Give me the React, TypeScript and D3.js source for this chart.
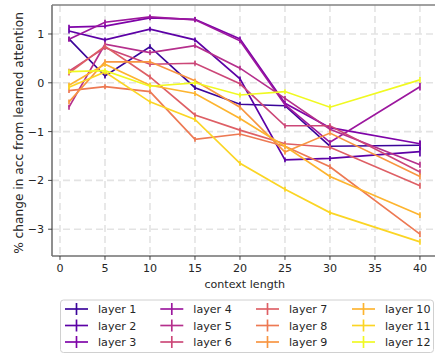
import React from "react";
import * as d3 from "d3";

const contextLengths = [1, 5, 10, 15, 20, 25, 30, 40];
const layerNames = ["layer 1","layer 2","layer 3","layer 4","layer 5","layer 6","layer 7","layer 8","layer 9","layer 10","layer 11","layer 12"];

const layer1 = [0.90, 0.14, 0.74, -0.10, -0.44, -0.47, -1.30, -1.28];
const layer2 = [1.06, 0.88, 1.10, 0.88, 0.08, -1.58, -1.55, -1.41];
const layer3 = [1.14, 1.16, 1.33, 1.30, 0.90, -0.42, -0.92, -1.25];
const layer4 = [0.89, 1.24, 1.35, 1.29, 0.86, -0.45, -1.22, -0.08];
const layer5 = [-0.50, 0.79, 0.62, 0.76, 0.30, -0.32, -0.95, -1.68];
const layer6 = [0.24, 0.72, 0.38, 0.40, -0.02, -0.88, -0.88, -1.83];
const layer7 = [0.20, 0.75, 0.12, -0.66, -0.97, -1.25, -1.32, -2.11];
const layer8 = [-0.16, -0.08, -0.18, -1.16, -1.05, -1.30, -1.72, -3.10];
const layer9 = [-0.39, 0.43, 0.43, 0.04, -0.50, -1.42, -1.03, -1.92];
const layer10 = [-0.05, 0.38, -0.05, -0.22, -0.73, -1.30, -1.92, -2.71];
const layer11 = [-0.09, 0.22, -0.39, -0.75, -1.65, -2.18, -2.66, -3.26];
const layer12 = [0.23, 0.25, -0.07, 0.00, -0.25, -0.18, -0.50, 0.06];

const err1 = [0.05, 0.05, 0.05, 0.05, 0.05, 0.05, 0.05, 0.10];
const err2 = [0.05, 0.05, 0.05, 0.05, 0.05, 0.05, 0.05, 0.10];
const err3 = [0.05, 0.05, 0.05, 0.05, 0.05, 0.05, 0.05, 0.06];
const err4 = [0.05, 0.05, 0.05, 0.05, 0.05, 0.05, 0.05, 0.08];
const err5 = [0.05, 0.05, 0.05, 0.05, 0.05, 0.05, 0.05, 0.06];
const err6 = [0.05, 0.05, 0.05, 0.05, 0.05, 0.05, 0.05, 0.06];
const err7 = [0.05, 0.05, 0.05, 0.05, 0.05, 0.05, 0.05, 0.06];
const err8 = [0.05, 0.05, 0.05, 0.05, 0.05, 0.05, 0.05, 0.06];
const err9 = [0.05, 0.05, 0.05, 0.05, 0.05, 0.05, 0.05, 0.06];
const err10 = [0.05, 0.05, 0.05, 0.05, 0.05, 0.05, 0.05, 0.06];
const err11 = [0.05, 0.05, 0.05, 0.05, 0.05, 0.05, 0.05, 0.06];
const err12 = [0.05, 0.05, 0.05, 0.05, 0.05, 0.05, 0.05, 0.06];

const series = [layer1, layer2, layer3, layer4, layer5, layer6, layer7, layer8, layer9, layer10, layer11, layer12];
const errors = [err1, err2, err3, err4, err5, err6, err7, err8, err9, err10, err11, err12];

const xTicks = [0, 5, 10, 15, 20, 25, 30, 35, 40];
const yTicks = [1, 0, -1, -2, -3];

const W = 435, H = 354;
const FONT = "DejaVu Sans, sans-serif";
const FS = 11.1;

export default function App() {
  const x = d3.scaleLinear().domain([-0.95, 41.95]).range([51.45, 437.5]);
  const y = d3.scaleLinear().domain([-3.549, 1.594]).range([256, 5]);
  const color = (i: number) => d3.interpolatePlasma((i + 1) / 12);
  const line = d3.line<number>().x((_, i) => x(contextLengths[i])).y((d) => y(d));
  const left = 52, right = 437.5, top = 5, bottom = 256;

  const legendRows = [309, 325.5, 342];
  const legendCols = [65, 160.3, 256, 352];

  return (
    <svg width={W} height={H} style={{ position: "absolute", left: 0, top: 0, background: "#fff" }} fontFamily={FONT}>
      <rect x={0} y={0} width={W} height={H} fill="#fff" />
      {/* grid */}
      {xTicks.map((t) => (
        <line key={"gx" + t} x1={x(t)} x2={x(t)} y1={top} y2={bottom} stroke="#e3e3e3" strokeWidth={1.6} strokeDasharray="7,4" />
      ))}
      {yTicks.map((t) => (
        <line key={"gy" + t} x1={left} x2={right} y1={y(t)} y2={y(t)} stroke="#e3e3e3" strokeWidth={1.6} strokeDasharray="7,4" />
      ))}
      {/* series */}
      {series.map((s, i) => (
        <g key={"s" + i} stroke={color(i)} fill="none" strokeWidth={1.67}>
          <path d={line(s) || ""} />
          {s.map((v, j) => (
            <line key={j} x1={x(contextLengths[j])} x2={x(contextLengths[j])} y1={y(v - errors[i][j])} y2={y(v + errors[i][j])} />
          ))}
        </g>
      ))}
      {/* spines */}
      <line x1={left} x2={left} y1={top} y2={bottom} stroke="#333" strokeWidth={1.1} />
      <line x1={left} x2={right} y1={top} y2={top} stroke="#808080" strokeWidth={1.4} />
      <line x1={left} x2={right} y1={bottom} y2={bottom} stroke="#707070" strokeWidth={1.4} />
      {/* ticks */}
      {xTicks.map((t) => (
        <g key={"xt" + t}>
          <line x1={x(t)} x2={x(t)} y1={bottom} y2={bottom + 3.9} stroke="#333" strokeWidth={0.9} />
          <text x={x(t)} y={bottom + 15.5} fontSize={FS} textAnchor="middle" fill="#262626">{t}</text>
        </g>
      ))}
      {yTicks.map((t) => (
        <g key={"yt" + t}>
          <line x1={left - 3.9} x2={left} y1={y(t)} y2={y(t)} stroke="#333" strokeWidth={0.9} />
          <text x={left - 7.8} y={y(t) + 4} fontSize={FS} textAnchor="end" fill="#262626">{t < 0 ? "\u2212" + Math.abs(t) : String(t)}</text>
        </g>
      ))}
      <text x={(left + right) / 2} y={288} fontSize={FS} textAnchor="middle" fill="#262626">context length</text>
      <text transform={`translate(22.5,133) rotate(-90)`} fontSize={12.2} textAnchor="middle" fill="#262626">% change in acc from learned attention</text>
      {/* legend */}
      <rect x={60.5} y={300} width={373} height={52.5} rx={3} fill="#fff" fillOpacity={0.8} stroke="#d0d0d0" strokeWidth={1} />
      {layerNames.map((name, i) => {
        const c = Math.floor(i / 3), r = i % 3;
        const lx = legendCols[c], ly = legendRows[r];
        return (
          <g key={"lg" + i}>
            <line x1={lx} x2={lx + 23} y1={ly} y2={ly} stroke={color(i)} strokeWidth={1.67} />
            <line x1={lx + 11.5} x2={lx + 11.5} y1={ly - 6} y2={ly + 6} stroke={color(i)} strokeWidth={1.67} />
            <text x={lx + 33} y={ly + 4} fontSize={FS} fill="#262626">{name}</text>
          </g>
        );
      })}
    </svg>
  );
}
